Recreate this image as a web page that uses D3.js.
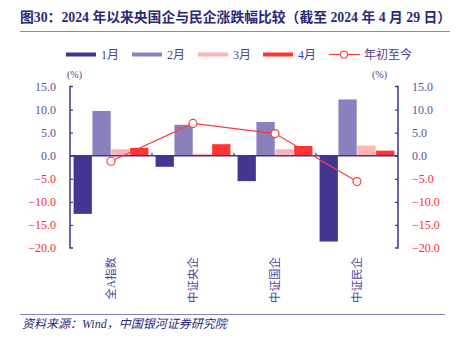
<!DOCTYPE html>
<html>
<head>
<meta charset="utf-8">
<script src="https://cdn.jsdelivr.net/npm/d3@7"></script>
<style>
  body { margin: 0; background: #fff; }
  text { font-family: "Liberation Serif", "Noto Sans CJK SC", serif; }
</style>
</head>
<body>
<svg id="chart" width="464" height="345"></svg>
<script>
var categories = ["全A指数", "中证央企", "中证国企", "中证民企"];
var months = ["1月", "2月", "3月", "4月"];
var jan = [-12.6, -2.4, -5.5, -18.6];
var feb = [9.7, 6.7, 7.3, 12.2];
var mar = [1.4, 0.4, 1.4, 2.2];
var apr = [1.7, 2.5, 2.1, 1.1];
var ytd = [-1.2, 7.0, 4.8, -5.6];
var yTicks = [15, 10, 5, 0, -5, -10, -15, -20];

var barColors = ["#433691", "#8a80be", "#ffb3b3", "#ff3535"];
var lineColor = "#ff3b3b";
var axisColor = "#3f3593";

var svg = d3.select("#chart");
var plotLeft = 70, plotRight = 398, plotTop = 86.5, plotBottom = 248;

var x = d3.scaleBand().domain(categories).range([plotLeft, plotRight]).paddingInner(0).paddingOuter(0);
var xm = d3.scaleBand().domain(months).range([0, x.bandwidth()]).paddingOuter(0.19).paddingInner(0.03);
var y = d3.scaleLinear().domain([-20, 15]).range([plotBottom, plotTop]);

// title
svg.append("text")
    .attr("x", 20).attr("y", 22)
    .attr("font-size", "13.8px")
    .attr("font-weight", "bold")
    .attr("fill", "#2b2879")
    .text("图30：2024 年以来央国企与民企涨跌幅比较（截至 2024 年 4 月 29 日）");
svg.append("line")
    .attr("x1", 20).attr("x2", 450).attr("y1", 31.5).attr("y2", 31.5)
    .attr("stroke", "#8a80c4").attr("stroke-width", 1);

// legend
var legendX = [66, 132, 198, 263];
months.forEach(function(m, i) {
  svg.append("rect")
      .attr("x", legendX[i]).attr("y", 52.5).attr("width", 30).attr("height", 4)
      .attr("fill", barColors[i]);
  svg.append("text")
      .attr("x", legendX[i] + 35).attr("y", 59)
      .attr("font-size", "12px").attr("fill", "#4a4096")
      .text(m);
});
svg.append("line")
    .attr("x1", 329).attr("x2", 360).attr("y1", 54.5).attr("y2", 54.5)
    .attr("stroke", lineColor).attr("stroke-width", 1.2);
svg.append("circle")
    .attr("cx", 344).attr("cy", 54.5).attr("r", 3.5)
    .attr("fill", "#fff").attr("stroke", lineColor).attr("stroke-width", 1.2);
svg.append("text")
    .attr("x", 364).attr("y", 59)
    .attr("font-size", "12px").attr("fill", "#4a4096")
    .text("年初至今");

// unit labels
svg.append("text").attr("x", 67).attr("y", 78).attr("font-size", "10px").attr("fill", "#4a4096").text("(%)");
svg.append("text").attr("x", 372).attr("y", 78).attr("font-size", "10px").attr("fill", "#4a4096").text("(%)");

// bars
var series = [jan, feb, mar, apr];
series.forEach(function(vals, si) {
  svg.append("g").selectAll("rect")
    .data(vals)
    .enter().append("rect")
      .attr("x", (d, i) => x(categories[i]) + xm(months[si]))
      .attr("width", xm.bandwidth())
      .attr("y", d => y(Math.max(0, d)))
      .attr("height", d => Math.abs(y(d) - y(0)))
      .attr("fill", barColors[si]);
});

// axes
var yLeft = d3.axisLeft(y).tickValues(yTicks).tickSize(-3).tickPadding(14)
    .tickFormat(d3.format(".1f"));
var gl = svg.append("g").attr("transform", "translate(" + plotLeft + ",0)").call(yLeft);
var yRight = d3.axisRight(y).tickValues(yTicks).tickSize(-3).tickPadding(14)
    .tickFormat(d3.format(".1f"));
var gr = svg.append("g").attr("transform", "translate(" + plotRight + ",0)").call(yRight);

[gl, gr].forEach(function(g) {
  g.attr("font-family", "Liberation Serif").attr("font-size", 12);
  g.select(".domain").attr("stroke", axisColor).attr("stroke-width", 1.5)
    .attr("d", g === gl
      ? "M3," + plotTop + "H0V" + plotBottom + "H3"
      : "M-3," + plotTop + "H0V" + plotBottom + "H-3");
  g.selectAll(".tick line").attr("stroke", axisColor).attr("stroke-width", 1.2);
  g.selectAll(".tick text")
    .attr("fill", d => d < 0 ? "#ff2a2a" : "#5a51a3")
    .text(d => d < 0 ? "\u2212" + d3.format(".1f")(-d) : d3.format(".1f")(d));
  g.selectAll(".tick").filter(d => d === 15 || d === -20).select("line").remove();
});

// zero line with category ticks
svg.append("line")
    .attr("x1", plotLeft).attr("x2", plotRight).attr("y1", y(0)).attr("y2", y(0))
    .attr("stroke", axisColor).attr("stroke-width", 1.5);
svg.append("g").selectAll("line")
  .data(categories.slice(1))
  .enter().append("line")
    .attr("x1", d => x(d)).attr("x2", d => x(d))
    .attr("y1", y(0)).attr("y2", y(0) - 3)
    .attr("stroke", axisColor).attr("stroke-width", 1.2);

// category labels (vertical)
svg.append("g").selectAll("text")
  .data(categories)
  .enter().append("text")
    .attr("transform", d => "translate(" + (x(d) + x.bandwidth() / 2 + 4) + "," + 257 + ") rotate(-90)")
    .attr("text-anchor", "end")
    .attr("font-size", "11.5px")
    .attr("fill", "#4f46a0")
    .text(d => d);

// ytd line
var line = d3.line()
    .x((d, i) => x(categories[i]) + x.bandwidth() / 2)
    .y(d => y(d));
svg.append("path")
    .datum(ytd)
    .attr("d", line)
    .attr("fill", "none")
    .attr("stroke", lineColor)
    .attr("stroke-width", 1.2);
svg.append("g").selectAll("circle")
  .data(ytd)
  .enter().append("circle")
    .attr("cx", (d, i) => x(categories[i]) + x.bandwidth() / 2)
    .attr("cy", d => y(d))
    .attr("r", 4)
    .attr("fill", "#fff")
    .attr("stroke", lineColor)
    .attr("stroke-width", 1.2);

// footer
svg.append("line")
    .attr("x1", 20).attr("x2", 445).attr("y1", 314.5).attr("y2", 314.5)
    .attr("stroke", "#8a80c4").attr("stroke-width", 1);
svg.append("text")
    .attr("x", 22).attr("y", 328)
    .attr("font-size", "12px")
    .attr("font-style", "italic")
    .attr("fill", "#2b2879")
    .text("资料来源：Wind，中国银河证券研究院");
</script>
</body>
</html>
